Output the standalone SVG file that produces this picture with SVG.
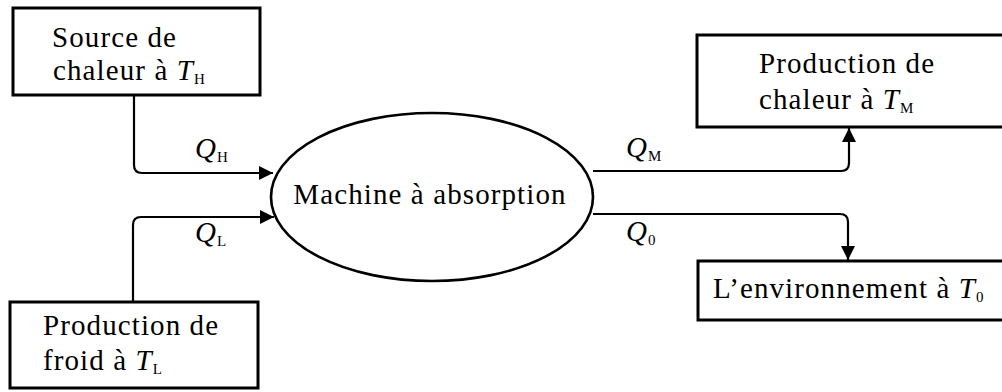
<svg xmlns="http://www.w3.org/2000/svg" width="1002" height="392" viewBox="0 0 1002 392">
  <style>
    .box { fill: #fff; stroke: #000; stroke-width: 3; }
    .oval { fill: #fff; stroke: #000; stroke-width: 2.6; }
    .flow { fill: none; stroke: #000; stroke-width: 2.2; }
    text { font-family: 'Liberation Serif', 'DejaVu Serif', serif; font-size: 29px; letter-spacing: 1.1px; fill: #000; }
    .it { font-style: italic; }
    .sub { font-size: 15px; letter-spacing: 0; }
  </style>
  <defs>
    <marker id="head" viewBox="0 0 14 14" refX="14" refY="7" markerWidth="14" markerHeight="14" markerUnits="userSpaceOnUse" orient="auto">
      <path d="M0,0 L14,7 L0,14 z" fill="#000"/>
    </marker>
  </defs>
  <rect width="1002" height="392" fill="#fff"/>

  <!-- heat flows -->
  <g id="connectors" font-family="Liberation Serif, DejaVu Serif, serif">
    <path class="flow" d="M134,95 V165 Q134,173 142,173 H273" marker-end="url(#head)"/>
    <path class="flow" d="M133,302 V225 Q133,217 141,217 H274" marker-end="url(#head)"/>
    <path class="flow" d="M593,171 H841 Q849,171 849,163 V128" marker-end="url(#head)"/>
    <path class="flow" d="M593,214 H840 Q848,214 848,222 V260" marker-end="url(#head)"/>
    <text x="195" y="158"><tspan class="it">Q</tspan><tspan class="sub" dy="4">H</tspan></text>
    <text x="195" y="242"><tspan class="it">Q</tspan><tspan class="sub" dy="4">L</tspan></text>
    <text x="626" y="157"><tspan class="it">Q</tspan><tspan class="sub" dy="4">M</tspan></text>
    <text x="626" y="241"><tspan class="it">Q</tspan><tspan class="sub" dy="4">0</tspan></text>
  </g>

  <g id="source-chaleur">
    <rect class="box" x="13" y="8" width="247" height="87"/>
    <text x="52" y="47">Source de</text>
    <text x="53" y="80">chaleur à <tspan class="it">T</tspan><tspan class="sub" dy="4">H</tspan></text>
  </g>

  <g id="production-froid">
    <rect class="box" x="10" y="302" width="248" height="86"/>
    <text x="43" y="335">Production de</text>
    <text x="43" y="370">froid à <tspan class="it">T</tspan><tspan class="sub" dy="4">L</tspan></text>
  </g>

  <g id="machine">
    <ellipse class="oval" cx="432" cy="197" rx="161" ry="84"/>
    <text x="430" y="204" text-anchor="middle">Machine à absorption</text>
  </g>

  <g id="production-chaleur">
    <rect class="box" x="697" y="35" width="320" height="92"/>
    <text x="759" y="73">Production de</text>
    <text x="759" y="109">chaleur à <tspan class="it">T</tspan><tspan class="sub" dy="4">M</tspan></text>
  </g>

  <g id="environnement">
    <rect class="box" x="698" y="261" width="320" height="59"/>
    <text x="713" y="298">L’environnement à <tspan class="it">T</tspan><tspan class="sub" dy="4">0</tspan></text>
  </g>
</svg>
